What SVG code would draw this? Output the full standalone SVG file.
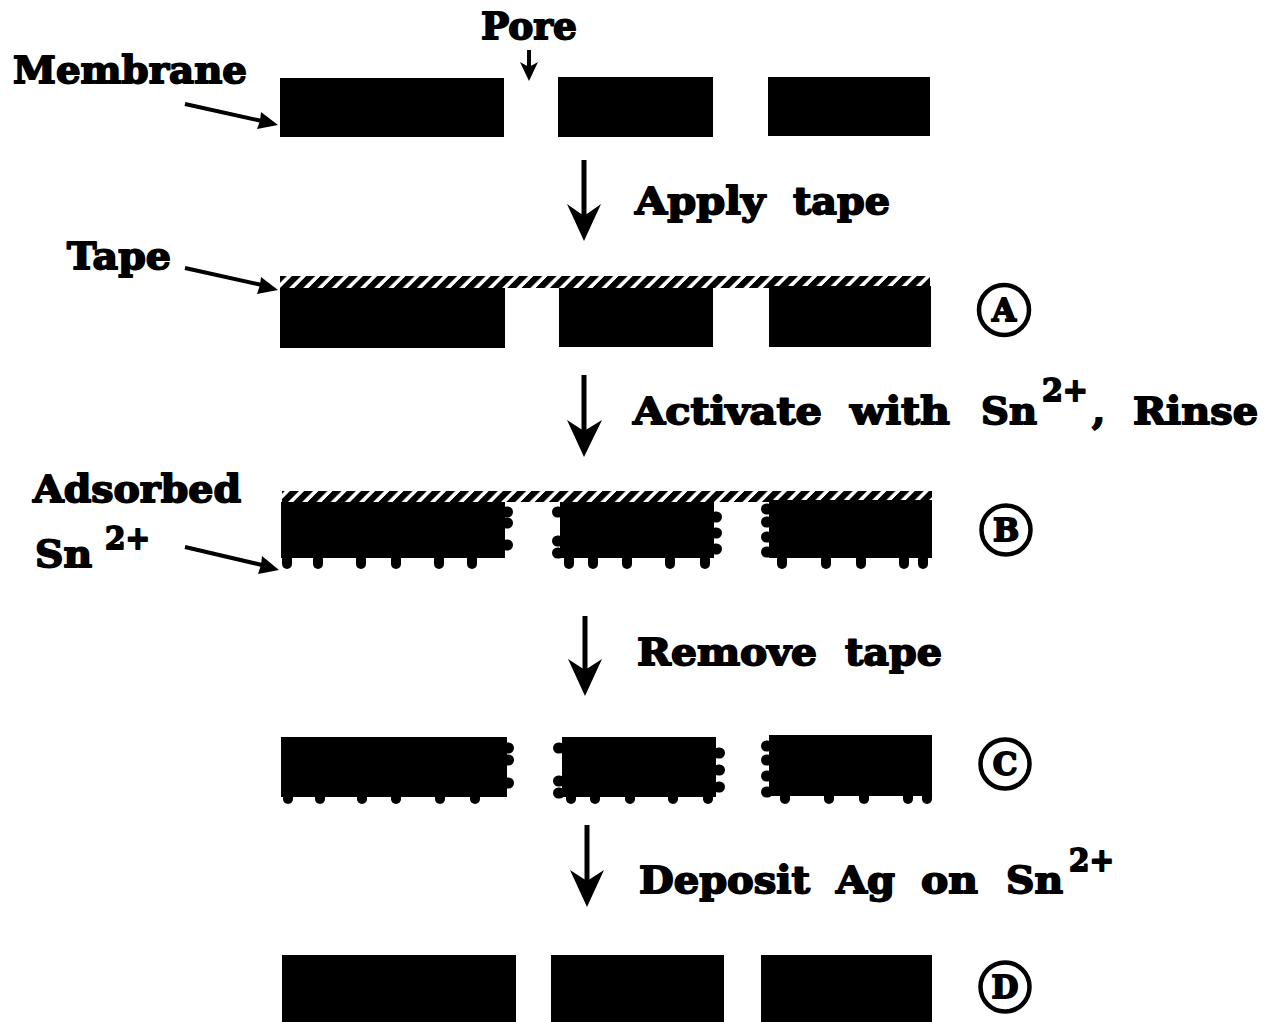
<svg xmlns="http://www.w3.org/2000/svg" width="1276" height="1022" viewBox="0 0 1276 1022">
<style>
text{font-family:"DejaVu Serif","Liberation Serif",serif;font-weight:bold;fill:#000;stroke:#000;stroke-width:1.8;stroke-linejoin:round}
.lab{font-size:38px}
.sup{font-size:31px}
.let{font-size:31px;text-anchor:middle}
.ring{fill:none;stroke:#000;stroke-width:4.5}
.blk{fill:#000}
.tape{fill:url(#hatch)}
.ln{stroke:#000;stroke-width:4;fill:none}
.ln2{stroke:#000;stroke-width:5;fill:none}
.ar{fill:#000}
</style>
<defs>
<pattern id="hatch" patternUnits="userSpaceOnUse" width="14.2" height="12" patternTransform="skewX(-45)">
<rect width="9" height="12" fill="#000"/>
</pattern>
<rect id="b" x="-5" y="-9" width="10" height="15" rx="5" class="blk"/>
<rect id="h" x="-6" y="-5.5" width="12" height="11" rx="5.5" class="blk"/>
</defs>
<g id="connectors">
<path class="ln" d="M529 50V68"/><path class="ar" d="M520 62L529 81L538 62L529 67Z"/>
<path class="ln" d="M185 104L262 121"/><path class="ar" d="M278 125L257 129L260 121L261 112Z"/>
<path class="ln" d="M185 268L262 285"/><path class="ar" d="M278 290L257 294L260 285L261 277Z"/>
<path class="ln" d="M185 547L262 565"/><path class="ar" d="M279 570L258 574L261 565L262 556Z"/>
<path class="ln2" d="M584 160V225"/><path class="ar" d="M567 204L584 241L601 204L584 216Z"/>
<path class="ln2" d="M584 375V440"/><path class="ar" d="M567 420L584 457L602 420L584 431Z"/>
<path class="ln2" d="M585 616V680"/><path class="ar" d="M568 659L585 696L602 659L585 670Z"/>
<path class="ln2" d="M587 825V890"/><path class="ar" d="M570 870L587 907L604 870L587 881Z"/>
</g>
<g id="labels">
<text class="lab" x="13" y="83" textLength="234" lengthAdjust="spacingAndGlyphs">Membrane</text>
<text class="lab" x="481" y="39" textLength="96" lengthAdjust="spacingAndGlyphs">Pore</text>
<text class="lab" x="635" y="214" textLength="130" lengthAdjust="spacingAndGlyphs">Apply</text>
<text class="lab" x="793" y="214" textLength="97" lengthAdjust="spacingAndGlyphs">tape</text>
<text class="lab" x="67" y="269" textLength="104" lengthAdjust="spacingAndGlyphs">Tape</text>
<text class="lab" x="633" y="424" textLength="189" lengthAdjust="spacingAndGlyphs">Activate</text>
<text class="lab" x="850" y="424" textLength="100" lengthAdjust="spacingAndGlyphs">with</text>
<text class="lab" x="981" y="424" textLength="56" lengthAdjust="spacingAndGlyphs">Sn</text>
<text class="sup" x="1042" y="401" textLength="46" lengthAdjust="spacingAndGlyphs">2+</text>
<text class="lab" x="1092" y="424">,</text>
<text class="lab" x="1133" y="424" textLength="125" lengthAdjust="spacingAndGlyphs">Rinse</text>
<text class="lab" x="33" y="502" textLength="208" lengthAdjust="spacingAndGlyphs">Adsorbed</text>
<text class="lab" x="35" y="567" textLength="57" lengthAdjust="spacingAndGlyphs">Sn</text>
<text class="sup" x="105" y="549" textLength="45" lengthAdjust="spacingAndGlyphs">2+</text>
<text class="lab" x="637" y="665" textLength="180" lengthAdjust="spacingAndGlyphs">Remove</text>
<text class="lab" x="845" y="665" textLength="97" lengthAdjust="spacingAndGlyphs">tape</text>
<text class="lab" x="639" y="893" textLength="171" lengthAdjust="spacingAndGlyphs">Deposit</text>
<text class="lab" x="836" y="893" textLength="59" lengthAdjust="spacingAndGlyphs">Ag</text>
<text class="lab" x="921" y="893" textLength="57" lengthAdjust="spacingAndGlyphs">on</text>
<text class="lab" x="1006" y="893" textLength="57" lengthAdjust="spacingAndGlyphs">Sn</text>
<text class="sup" x="1069" y="871" textLength="45" lengthAdjust="spacingAndGlyphs">2+</text>
</g>
<g id="row-membrane">
<rect class="blk" x="280" y="78" width="224" height="59"/>
<rect class="blk" x="558" y="77" width="155" height="60"/>
<rect class="blk" x="768" y="77" width="162" height="59"/>
</g>
<g id="row-a">
<rect class="tape" x="280" y="276" width="650" height="12"/>
<rect class="blk" x="280" y="288" width="225" height="60"/>
<rect class="blk" x="559" y="288" width="154" height="59"/>
<rect class="blk" x="769" y="286" width="162" height="61"/>
<circle class="ring" cx="1004" cy="310" r="25"/>
<text class="let" x="1004" y="321">A</text>
</g>
<g id="row-b">
<rect class="tape" x="282" y="491" width="650" height="11"/>
<rect class="blk" x="281" y="502" width="224" height="56"/>
<rect class="blk" x="560" y="502" width="154" height="56"/>
<rect class="blk" x="769" y="500" width="163" height="58"/>
<use href="#b" x="287" y="563"/><use href="#b" x="318" y="563"/><use href="#b" x="361" y="563"/><use href="#b" x="396" y="563"/><use href="#b" x="439" y="563"/><use href="#b" x="472" y="563"/>
<use href="#b" x="569" y="563"/><use href="#b" x="593" y="563"/><use href="#b" x="627" y="563"/><use href="#b" x="670" y="563"/><use href="#b" x="705" y="563"/>
<use href="#b" x="782" y="563"/><use href="#b" x="826" y="563"/><use href="#b" x="861" y="563"/><use href="#b" x="904" y="563"/><use href="#b" x="923" y="563"/>
<use href="#h" x="507" y="512"/><use href="#h" x="507" y="523"/><use href="#h" x="507" y="545"/>
<use href="#h" x="558" y="512"/><use href="#h" x="558" y="541"/><use href="#h" x="558" y="553"/>
<use href="#h" x="716" y="517"/><use href="#h" x="716" y="533"/><use href="#h" x="716" y="549"/>
<use href="#h" x="767" y="509"/><use href="#h" x="767" y="522"/><use href="#h" x="767" y="537"/><use href="#h" x="767" y="552"/>
<circle class="ring" cx="1006" cy="530" r="24.5"/>
<text class="let" x="1006" y="541">B</text>
</g>
<g id="row-c">
<rect class="blk" x="281" y="737" width="226" height="60"/>
<rect class="blk" x="562" y="737" width="154" height="60"/>
<rect class="blk" x="769" y="735" width="163" height="61"/>
<use href="#b" x="288" y="798"/><use href="#b" x="320" y="798"/><use href="#b" x="362" y="798"/><use href="#b" x="396" y="798"/><use href="#b" x="440" y="798"/><use href="#b" x="475" y="798"/>
<use href="#b" x="571" y="798"/><use href="#b" x="595" y="798"/><use href="#b" x="630" y="798"/><use href="#b" x="673" y="798"/><use href="#b" x="708" y="798"/>
<use href="#b" x="785" y="798"/><use href="#b" x="829" y="798"/><use href="#b" x="864" y="798"/><use href="#b" x="908" y="798"/><use href="#b" x="927" y="798"/>
<use href="#h" x="508" y="748"/><use href="#h" x="508" y="760"/><use href="#h" x="508" y="783"/>
<use href="#h" x="559" y="748"/><use href="#h" x="559" y="781"/><use href="#h" x="559" y="793"/>
<use href="#h" x="719" y="753"/><use href="#h" x="719" y="770"/><use href="#h" x="719" y="787"/>
<use href="#h" x="767" y="746"/><use href="#h" x="767" y="760"/><use href="#h" x="767" y="776"/><use href="#h" x="767" y="792"/>
<circle class="ring" cx="1005" cy="764" r="24.5"/>
<text class="let" x="1005" y="775">C</text>
</g>
<g id="row-d">
<rect class="blk" x="282" y="955" width="234" height="67"/>
<rect class="blk" x="551" y="955" width="173" height="67"/>
<rect class="blk" x="761" y="955" width="171" height="67"/>
<circle class="ring" cx="1005" cy="987" r="24.5"/>
<text class="let" x="1005" y="998">D</text>
</g>
</svg>
